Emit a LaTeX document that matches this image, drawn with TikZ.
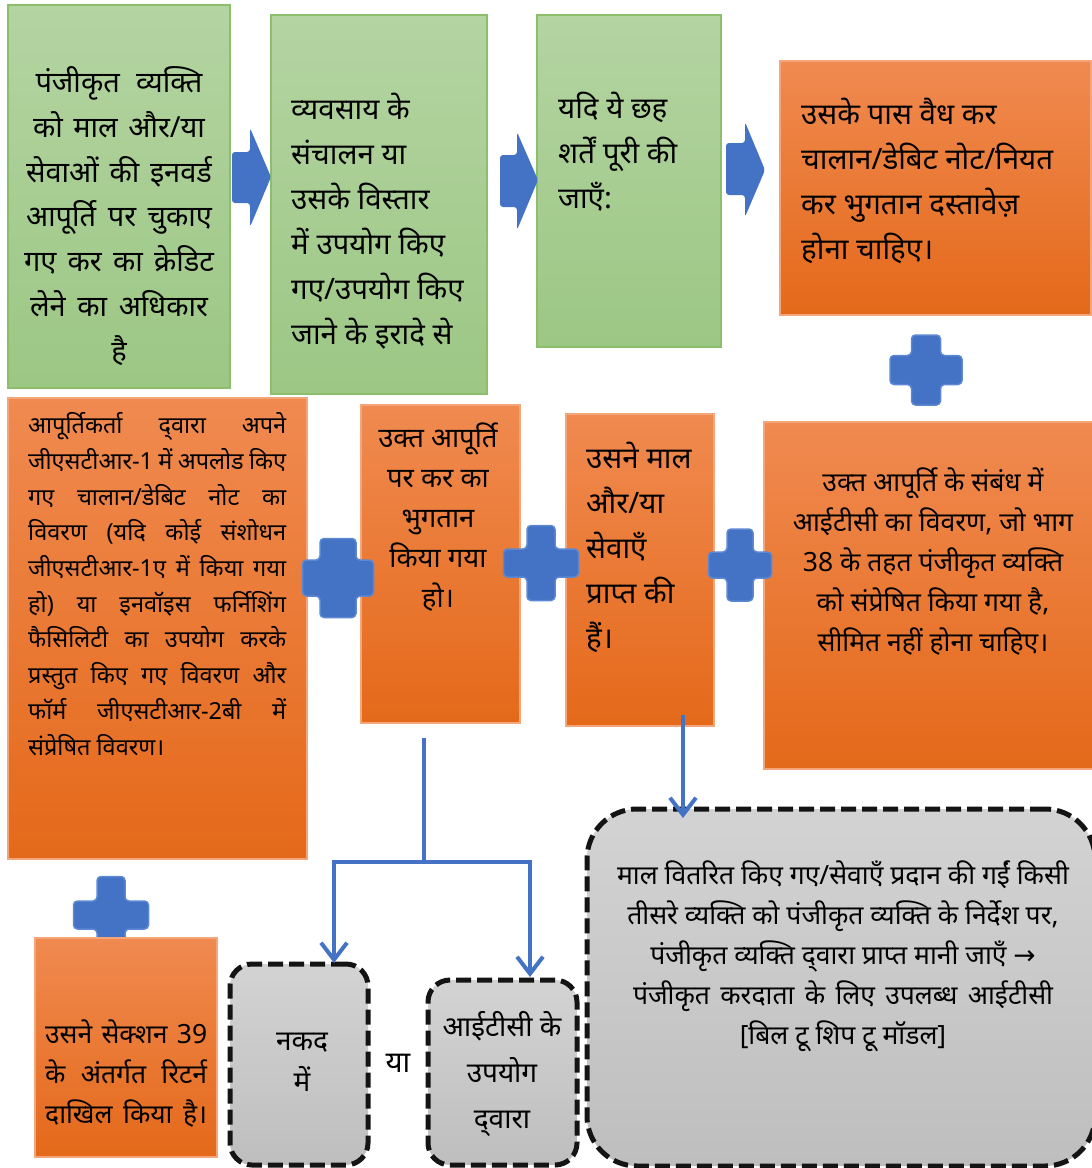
\documentclass[tikz,border=0pt]{standalone}
\usepackage{fontspec}
\setmainfont{Noto Sans}[Script=Devanagari]
\newfontfamily\symfont{DejaVu Sans}
\usetikzlibrary{arrows.meta,calc}

\definecolor{grTop}{HTML}{B4D4A2}
\definecolor{grBot}{HTML}{9CC784}
\definecolor{grLine}{HTML}{8CBE6C}
\definecolor{orTop}{HTML}{F08A50}
\definecolor{orBot}{HTML}{E4691A}
\definecolor{orLine}{HTML}{F4A67A}
\definecolor{gyTop}{HTML}{D3D3D3}
\definecolor{gyBot}{HTML}{BEBEBE}
\definecolor{blu}{HTML}{4472C4}
\definecolor{bluEdge}{HTML}{5C87D2}

% a line of text stretched to the given width
\newcommand\justline[2]{\makebox[#1pt][s]{#2}}
% a rounded plus sign: centre x, centre y, width, height, arm thickness
\newcommand\drawplus[5]{%
  \filldraw[plusmark]
    ({#1-#5/2},{#2-#4/2}) -- ({#1+#5/2},{#2-#4/2}) -- ({#1+#5/2},{#2-#5/2}) --
    ({#1+#3/2},{#2-#5/2}) -- ({#1+#3/2},{#2+#5/2}) -- ({#1+#5/2},{#2+#5/2}) --
    ({#1+#5/2},{#2+#4/2}) -- ({#1-#5/2},{#2+#4/2}) -- ({#1-#5/2},{#2+#5/2}) --
    ({#1-#3/2},{#2+#5/2}) -- ({#1-#3/2},{#2-#5/2}) -- ({#1-#5/2},{#2-#5/2}) -- cycle;}
% a block arrow: body left x, head back x, tip x, body top y, body bottom y, head top y, head bottom y, tip y
\newcommand\blockarrow[8]{%
  \fill[arrowshape] (#1,#4) -- (#2,#4) -- (#2,#6) -- (#3,#8) -- (#2,#7) -- (#2,#5) -- (#1,#5) -- cycle;}

\tikzset{
  base/.style={anchor=north west, inner sep=0pt, outer sep=0pt},
  greenbox/.style={base, draw=grLine, line width=1.5pt, top color=grTop, bottom color=grBot},
  orangebox/.style={base, draw=orLine, line width=1.5pt, top color=orTop, bottom color=orBot},
  greybox/.style={base, draw=black!92, line width=5pt, dash pattern=on 15pt off 6pt,
    top color=gyTop, bottom color=gyBot, rounded corners=#1},
  greybox/.default=22pt,
  txt/.style={inner sep=0pt, text=black},
  bigtxt/.style={txt, font=\fontsize{29.5}{45}\selectfont},
  boxonetxt/.style={txt, font=\fontsize{29}{44.7}\selectfont},
  midtxt/.style={txt, font=\fontsize{26.5}{40}\selectfont},
  sixtxt/.style={txt, font=\fontsize{27.5}{40}\selectfont},
  smalltxt/.style={txt, font=\fontsize{23.5}{35.7}\selectfont},
  cashtxt/.style={txt, font=\fontsize{28}{41}\selectfont},
  itctxt/.style={txt, font=\fontsize{28}{46}\selectfont},
  plusmark/.style={fill=blu, draw=bluEdge, line width=1.5pt, rounded corners=4pt},
  arrowshape/.style={fill=blu, rounded corners=3pt},
  link/.style={draw=blu, line width=4pt},
  linktip/.style={link, -{Straight Barb[length=17pt,width=26pt]}},
}

\begin{document}
\begin{tikzpicture}[x=1pt,y=-1pt]
\useasboundingbox (0,0) rectangle (1092,1168);

% ---------- top row ----------
\node[greenbox, minimum width=222, minimum height=383] (b1) at (8,5) {};
\node[greenbox, minimum width=216, minimum height=379] (b2) at (271,15) {};
\node[greenbox, minimum width=184, minimum height=332] (b3) at (537,15) {};
\node[orangebox, minimum width=311, minimum height=254] (b4) at (780,61) {};

\node[boxonetxt, align=center] (t1) at (119,216) {%
  \justline{167}{पंजीकृत व्यक्ति}\\
  \justline{172}{को माल और/या}\\
  \justline{186}{सेवाओं की इनवर्ड}\\
  \justline{186}{आपूर्ति पर चुकाए}\\
  \justline{190}{गए कर का क्रेडिट}\\
  \justline{178}{लेने का अधिकार}\\
  है};
\node[bigtxt, align=left, anchor=west] (t2) at (291,221.5) {%
  व्यवसाय के\\ संचालन या\\ उसके विस्तार\\ में उपयोग किए\\ गए/उपयोग किए\\ जाने के इरादे से};
\node[bigtxt, align=left, anchor=west] (t3) at (558,152) {%
  यदि ये छह\\ शर्तें पूरी की\\ जाएँ:};
\node[bigtxt, align=left, anchor=west] (t4) at (801,180.5) {%
  उसके पास वैध कर\\ चालान/डेबिट नोट/नियत\\ कर भुगतान दस्तावेज़\\ होना चाहिए।};

\blockarrow{232}{250}{271}{152}{203}{128}{227}{177}
\blockarrow{500}{517}{538}{155}{207}{132}{230}{180}
\blockarrow{726}{745}{765}{143}{195}{122}{217}{170}

\drawplus{926}{370}{72}{70}{29}

% ---------- middle row ----------
\node[orangebox, minimum width=299, minimum height=461] (b5) at (8,398) {};
\node[orangebox, minimum width=159, minimum height=318] (b6) at (361,405) {};
\node[orangebox, minimum width=148, minimum height=312] (b7) at (566,414) {};
\node[orangebox, minimum width=330, minimum height=347] (b8) at (764,422) {};

\node[smalltxt, align=left, anchor=west] (t5) at (28,584) {%
  \justline{258}{आपूर्तिकर्ता द्^^^^200cवारा अपने}\\
  \justline{258}{जीएसटीआर-1 में अपलोड किए}\\
  \justline{258}{गए चालान/डेबिट नोट का}\\
  \justline{258}{विवरण (यदि कोई संशोधन}\\
  \justline{258}{जीएसटीआर-1ए में किया गया}\\
  \justline{258}{हो) या इनवॉइस फर्निशिंग}\\
  \justline{258}{फैसिलिटी का उपयोग करके}\\
  \justline{258}{प्रस्तुत किए गए विवरण और}\\
  \justline{258}{फॉर्म जीएसटीआर-2बी में}\\
  संप्रेषित विवरण।};
\node[sixtxt, align=center] (t6) at (438,517.5) {%
  उक्त आपूर्ति\\ पर कर का\\ भुगतान\\ किया गया\\ हो।};
\node[bigtxt, align=left, anchor=west] (t7) at (586,547) {%
  उसने माल\\ और/या\\ सेवाएँ\\ प्राप्त की\\ हैं।};
\node[midtxt, align=center] (t8) at (933,561) {%
  उक्त आपूर्ति के संबंध में\\ आईटीसी का विवरण, जो भाग\\ 38 के तहत पंजीकृत व्यक्ति\\
  को संप्रेषित किया गया है,\\ सीमित नहीं होना चाहिए।};

\drawplus{338}{578}{71}{79}{36}
\drawplus{541}{563}{75}{75}{28}
\drawplus{740}{565}{63}{72}{26}
\drawplus{111}{915}{75}{77}{28}

% ---------- bottom row ----------
\node[orangebox, minimum width=182, minimum height=219] (b9) at (35,938) {};
\node[midtxt, align=left, anchor=west] (t9) at (45,1073) {%
  \justline{162}{उसने सेक्शन 39}\\
  \justline{162}{के अंतर्गत रिटर्न}\\
  \justline{162}{दाखिल किया है।}};

\node[greybox, minimum width=138, minimum height=201] (b10) at (230,964) {};
\node[greybox, minimum width=149, minimum height=185] (b11) at (428,980) {};
\node[greybox=50pt, minimum width=508, minimum height=357] (b12) at (587,809) {};

\node[cashtxt, align=center] (t10) at (302,1062.5) {नकद\\ में};
\node[bigtxt] (ya) at (398,1063) {या};
\node[itctxt, align=center] (t11) at (502,1074) {%
  आईटीसी के\\ उपयोग\\ द्^^^^200cवारा};
\node[midtxt, align=center] (t12) at (843,956) {%
  माल वितरित किए गए/सेवाएँ प्रदान की गईं किसी\\
  तीसरे व्यक्ति को पंजीकृत व्यक्ति के निर्देश पर,\\
  पंजीकृत व्यक्ति द्^^^^200cवारा प्राप्त मानी जाएँ {\symfont →}\\
  \justline{420}{पंजीकृत करदाता के लिए उपलब्ध आईटीसी}\\
  \relax[बिल टू शिप टू मॉडल]};

% ---------- connectors ----------
\coordinate (s6) at ([xshift=-16.5pt,yshift=-15pt]b6.south);
\coordinate (fork) at ($(s6)+(0,124)$);
\draw[link] (s6) -- (fork);
\draw[linktip] (fork) -| ([xshift=35pt,yshift=1pt]b10.north);
\draw[linktip] (fork) -| ([xshift=27.5pt,yshift=3pt]b11.north);

\coordinate (s7) at ([xshift=43pt,yshift=11pt]b7.south);
\draw[linktip] (s7) -- ($(s7 |- b12.north)+(0,9)$);
\end{tikzpicture}
\end{document}
